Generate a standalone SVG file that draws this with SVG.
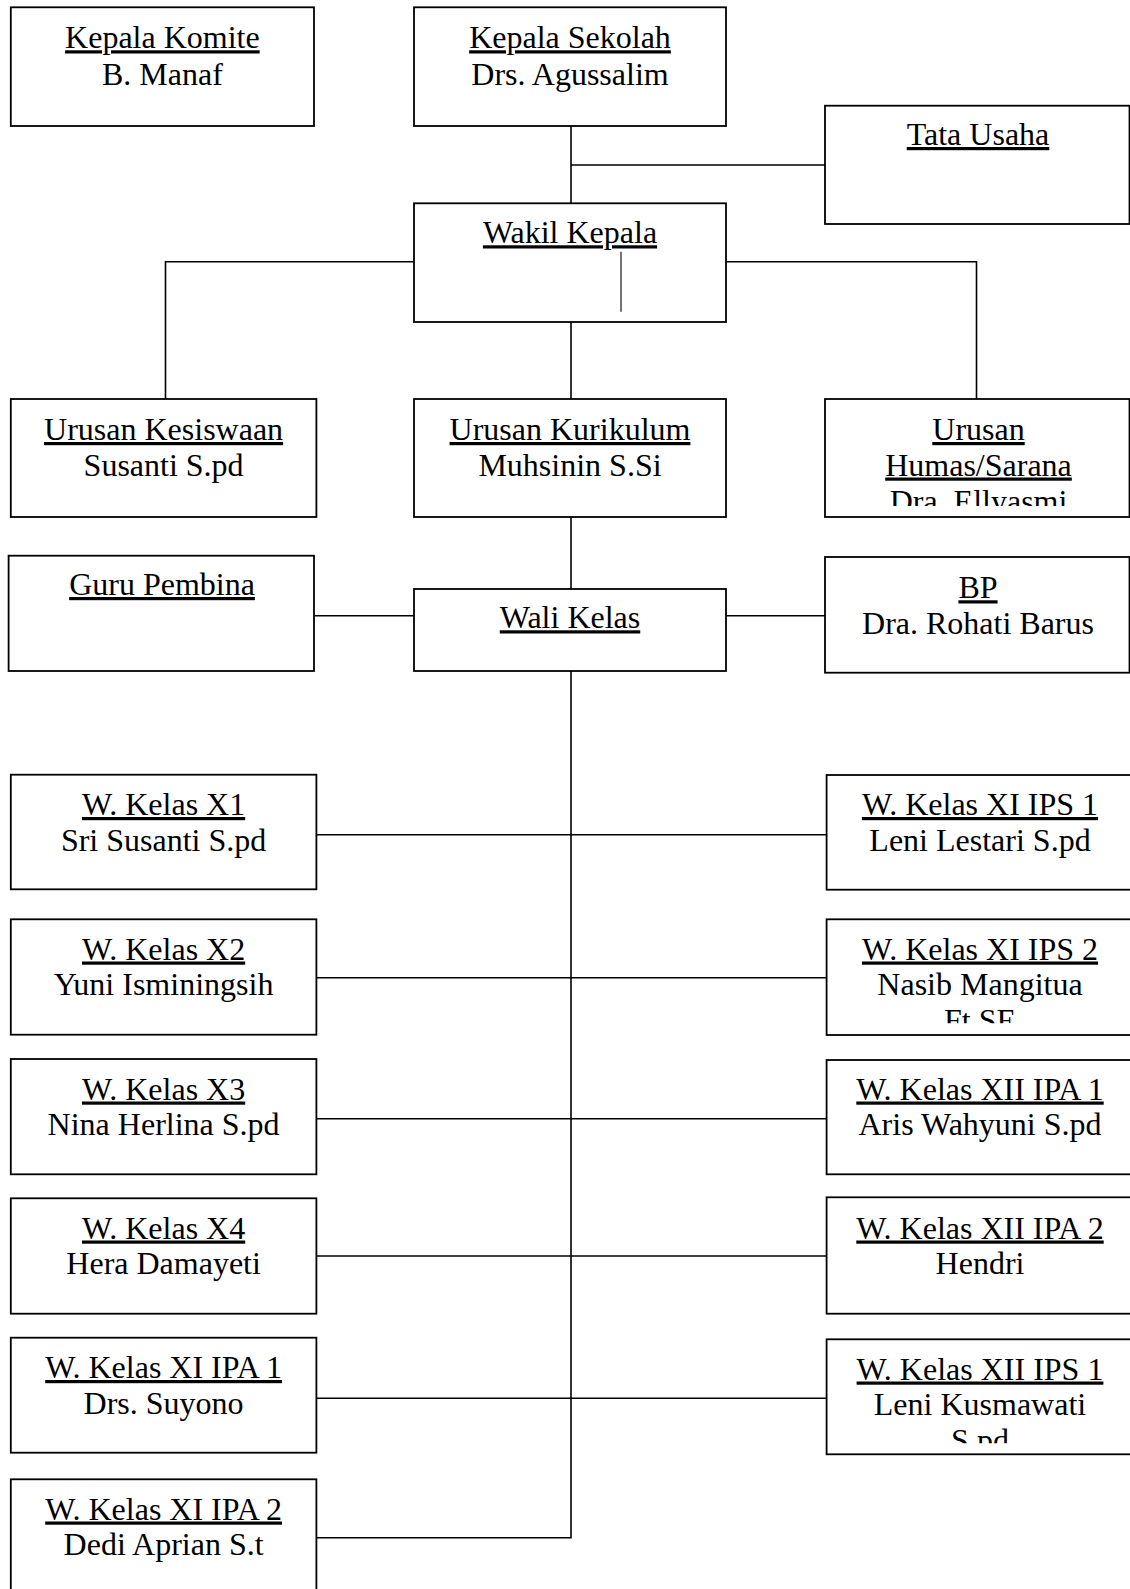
<svg xmlns="http://www.w3.org/2000/svg" width="1130" height="1589" viewBox="0 0 1130 1589">
<style>
.box{fill:#fff;stroke:#000;stroke-width:1.8}
.t{font-family:"Liberation Serif","Times New Roman",serif;font-size:32px;fill:#000;text-anchor:middle}
.u{text-decoration:underline;text-decoration-skip-ink:none}
.ln{fill:none;stroke:#000;stroke-width:1.6}
.thin{fill:none;stroke:#000;stroke-width:1.1}
</style>
<defs>
<clipPath id="cHumas"><rect x="820" y="399" width="320" height="107"/></clipPath>
<clipPath id="cNasib"><rect x="820" y="919" width="320" height="104.3"/></clipPath>
<clipPath id="cLeni"><rect x="820" y="1339" width="320" height="104.3"/></clipPath>
</defs>
<rect width="1130" height="1589" fill="#fff"/>
<g id="connectors">
<path class="ln" d="M571 126V203.3"/>
<path class="ln" d="M571 165H825"/>
<path class="ln" d="M414 261.7H165.5V399"/>
<path class="ln" d="M726 261.7H976.5V399"/>
<path class="ln" d="M571 322V399"/>
<path class="ln" d="M571 517V589"/>
<path class="ln" d="M314 615.7H414"/>
<path class="ln" d="M726 615.7H825"/>
<path class="ln" d="M571 671V1537.7H316.4"/>
<path class="ln" d="M316.4 834.7H826.6"/>
<path class="ln" d="M316.4 977.7H826.6"/>
<path class="ln" d="M316.4 1118.7H826.6"/>
<path class="ln" d="M316.4 1256H826.6"/>
<path class="ln" d="M316.4 1398.3H826.6"/>
</g>
<g id="kepala-komite">
<rect class="box" x="10.8" y="7.3" width="303.2" height="118.7"/>
<text class="t u" x="162.4" y="48.3">Kepala Komite</text>
<text class="t" x="162.4" y="84.5">B. Manaf</text>
</g>
<g id="kepala-sekolah">
<rect class="box" x="414" y="7.3" width="312" height="118.7"/>
<text class="t u" x="570" y="48.3">Kepala Sekolah</text>
<text class="t" x="570" y="84.5">Drs. Agussalim</text>
</g>
<g id="tata-usaha">
<rect class="box" x="825" y="105.7" width="304.5" height="118.3"/>
<text class="t u" x="978" y="145">Tata Usaha</text>
</g>
<g id="wakil-kepala">
<rect class="box" x="414" y="203.3" width="312" height="118.7"/>
<text class="t u" x="570" y="243.3">Wakil Kepala</text>
<path class="thin" d="M621 251.7V311.7"/>
</g>
<g id="urusan-kesiswaan">
<rect class="box" x="10.8" y="399" width="305.6" height="118"/>
<text class="t u" x="163.6" y="440">Urusan Kesiswaan</text>
<text class="t" x="163.6" y="475.5">Susanti S.pd</text>
</g>
<g id="urusan-kurikulum">
<rect class="box" x="414" y="399" width="312" height="118"/>
<text class="t u" x="570" y="440">Urusan Kurikulum</text>
<text class="t" x="570" y="475.5">Muhsinin S.Si</text>
</g>
<g id="urusan-humas">
<rect class="box" x="825" y="399" width="304.5" height="118"/>
<g clip-path="url(#cHumas)">
<text class="t u" x="978.5" y="440">Urusan</text>
<text class="t u" x="978.5" y="475.5">Humas/Sarana</text>
<text class="t" x="978.5" y="512">Dra. Ellyasmi</text>
</g>
</g>
<g id="guru-pembina">
<rect class="box" x="8.6" y="555.7" width="305.4" height="115.3"/>
<text class="t u" x="162" y="595">Guru Pembina</text>
</g>
<g id="wali-kelas">
<rect class="box" x="414" y="589" width="312" height="82"/>
<text class="t u" x="570" y="628.3">Wali Kelas</text>
</g>
<g id="bp">
<rect class="box" x="825" y="557" width="304.5" height="115.7"/>
<text class="t u" x="978" y="598.3">BP</text>
<text class="t" x="978" y="633.5">Dra. Rohati Barus</text>
</g>
<g id="w-kelas-x1">
<rect class="box" x="10.8" y="774.7" width="305.6" height="114.6"/>
<text class="t u" x="163.6" y="815">W. Kelas X1</text>
<text class="t" x="163.6" y="850.5">Sri Susanti S.pd</text>
</g>
<g id="w-kelas-xi-ips-1">
<rect class="box" x="826.6" y="775" width="306" height="114.7"/>
<text class="t u" x="980" y="815">W. Kelas XI IPS 1</text>
<text class="t" x="980" y="850.5">Leni Lestari S.pd</text>
</g>
<g id="w-kelas-x2">
<rect class="box" x="10.8" y="919.3" width="305.6" height="115.4"/>
<text class="t u" x="163.6" y="959.5">W. Kelas X2</text>
<text class="t" x="163.6" y="995">Yuni Isminingsih</text>
</g>
<g id="w-kelas-xi-ips-2">
<rect class="box" x="826.6" y="919.3" width="306" height="115.7"/>
<g clip-path="url(#cNasib)">
<text class="t u" x="980" y="959.5">W. Kelas XI IPS 2</text>
<text class="t" x="980" y="995">Nasib Mangitua</text>
<text class="t" x="980" y="1031">Ft SE</text>
</g>
</g>
<g id="w-kelas-x3">
<rect class="box" x="10.8" y="1059" width="305.6" height="115.3"/>
<text class="t u" x="163.6" y="1099.5">W. Kelas X3</text>
<text class="t" x="163.6" y="1135">Nina Herlina S.pd</text>
</g>
<g id="w-kelas-xii-ipa-1">
<rect class="box" x="826.6" y="1060" width="306" height="114.3"/>
<text class="t u" x="980" y="1099.5">W. Kelas XII IPA 1</text>
<text class="t" x="980" y="1135">Aris Wahyuni S.pd</text>
</g>
<g id="w-kelas-x4">
<rect class="box" x="10.8" y="1198.3" width="305.6" height="115.4"/>
<text class="t u" x="163.6" y="1238.5">W. Kelas X4</text>
<text class="t" x="163.6" y="1274">Hera Damayeti</text>
</g>
<g id="w-kelas-xii-ipa-2">
<rect class="box" x="826.6" y="1197.3" width="306" height="116.4"/>
<text class="t u" x="980" y="1238.5">W. Kelas XII IPA 2</text>
<text class="t" x="980" y="1274">Hendri</text>
</g>
<g id="w-kelas-xi-ipa-1">
<rect class="box" x="10.8" y="1337.7" width="305.6" height="115"/>
<text class="t u" x="163.6" y="1378">W. Kelas XI IPA 1</text>
<text class="t" x="163.6" y="1413.5">Drs. Suyono</text>
</g>
<g id="w-kelas-xii-ips-1">
<rect class="box" x="826.6" y="1339.3" width="306" height="115"/>
<g clip-path="url(#cLeni)">
<text class="t u" x="980" y="1379.5">W. Kelas XII IPS 1</text>
<text class="t" x="980" y="1415">Leni Kusmawati</text>
<text class="t" x="980" y="1451">S.pd</text>
</g>
</g>
<g id="w-kelas-xi-ipa-2">
<rect class="box" x="10.8" y="1479.3" width="305.6" height="120"/>
<text class="t u" x="163.6" y="1519.5">W. Kelas XI IPA 2</text>
<text class="t" x="163.6" y="1555">Dedi Aprian S.t</text>
</g>
</svg>
